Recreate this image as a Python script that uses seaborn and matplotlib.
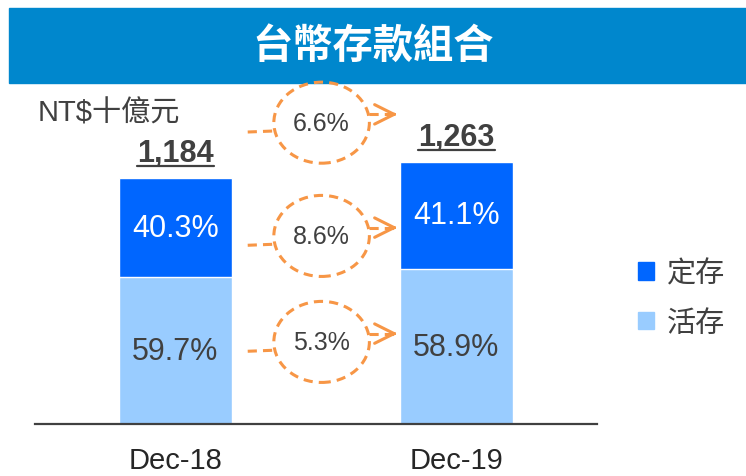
import matplotlib
matplotlib.use("Agg")
import matplotlib.pyplot as plt
import seaborn as sns
import pandas as pd
from matplotlib.patches import Ellipse, Rectangle, Patch
from matplotlib.lines import Line2D

# data
periods = ["Dec-18", "Dec-19"]
totals = [1184, 1263]
fixed_share = [40.3, 41.1]      # 定存
demand_share = [59.7, 58.9]     # 活存
growth_labels = ["6.6%", "8.6%", "5.3%"]   # total, fixed, demand growth

title = "台幣存款組合"
unit_label = "NT$十億元"
legend_labels = ["定存", "活存"]

DARK = "#0066FF"
LIGHT = "#99CCFF"
ORANGE = "#F79646"
TXT = "#404040"

demand = [t * d / 100 for t, d in zip(totals, demand_share)]
df = pd.DataFrame({"period": periods, "total": totals, "demand": demand})

sns.set_style("white")
plt.rcParams['font.family'] = ['Liberation Sans', 'Noto Sans CJK TC']

fig = plt.figure(figsize=(7.46, 4.77), dpi=100)
ax = fig.add_axes([35 / 746, 52 / 477, 562 / 746, 335 / 477])

# stacked bars: full total in dark blue, demand part over it in light blue
sns.barplot(data=df, x="period", y="total", color=DARK, width=0.4, saturation=1, ax=ax)
sns.barplot(data=df, x="period", y="demand", color=LIGHT, width=0.4, saturation=1, ax=ax)

ax.set_xlim(-0.5, 1.5)
ax.set_ylim(0, 1612)
ax.set_xlabel("")
ax.set_ylabel("")
ax.set_yticks([])
for s in ["left", "right", "top"]:
    ax.spines[s].set_visible(False)
ax.spines["bottom"].set_color("#404040")
ax.spines["bottom"].set_linewidth(1.6)
ax.tick_params(axis="x", length=0, pad=16, labelsize=21, labelcolor="#262626")

# share labels inside the segments
for i, (t, d, fs, ds) in enumerate(zip(totals, demand, fixed_share, demand_share)):
    ax.text(i, (t + d) / 2, f"{fs}%", ha="center", va="center", fontsize=22, color="white")
    ax.text(i, d / 2, f"{ds}%", ha="center", va="center", fontsize=22, color=TXT)

# totals, bold and underlined
total_texts = []
for i, t in enumerate(totals):
    tt = ax.annotate(f"{t:,}", (i, t), xytext=(0, 12), textcoords="offset points",
                     ha="center", va="baseline", fontsize=22, fontweight="bold", color=TXT)
    total_texts.append(tt)

# growth bubbles between the bars
ell_y = [1450, 905, 395]
cx, ew, eh = 0.52, 0.34, 390
dash = (0, (3, 2))
for lab, y in zip(growth_labels, ell_y):
    ax.add_patch(Ellipse((cx, y), ew, eh, fill=False, ec=ORANGE, lw=2.2, ls=dash, clip_on=False))
    ax.text(cx, y, lab, ha="center", va="center", fontsize=18, color=TXT)
    ax.plot([0.257, cx - ew / 2], [y - 45, y - 40], color=ORANGE, lw=2.2, ls=dash,
            solid_capstyle="butt", clip_on=False)
    ax.plot([cx + ew / 2, 0.78], [y + 40, y + 40], color=ORANGE, lw=2.2, ls=dash, clip_on=False)
    ax.annotate("", xy=(0.79, y + 40), xytext=(0.77, y + 40),
                arrowprops=dict(arrowstyle="->,head_length=0.7,head_width=0.35", color=ORANGE,
                                lw=2.2, shrinkA=0, shrinkB=0, mutation_scale=20))

# title banner
fig.add_artist(Rectangle((9 / 746, 1 - 84 / 477), 1 - 9 / 746, 75 / 477,
                         transform=fig.transFigure, color="#0087CD", zorder=0))
fig.text(0.5, 1 - 46 / 477, title, ha="center", va="center", fontsize=29,
         color="white", fontweight="bold")
fig.text(38 / 746, 1 - 114 / 477, unit_label, ha="left", va="center", fontsize=21, color=TXT)

handles = [Patch(color=DARK), Patch(color=LIGHT)]
fig.legend(handles, legend_labels, loc="center left", bbox_to_anchor=(623 / 746, 1 - 299 / 477),
           frameon=False, fontsize=21, handlelength=0.55, handleheight=0.55,
           handletextpad=0.45, labelspacing=0.75, borderpad=0, labelcolor=TXT)

# underline the totals
fig.canvas.draw()
for tt in total_texts:
    bb = tt.get_window_extent()
    y0 = bb.y0 + 2
    fig.add_artist(Line2D([bb.x0, bb.x1], [y0, y0], transform=None, color=TXT, lw=1.6))

fig.savefig("out.png", dpi=100)
